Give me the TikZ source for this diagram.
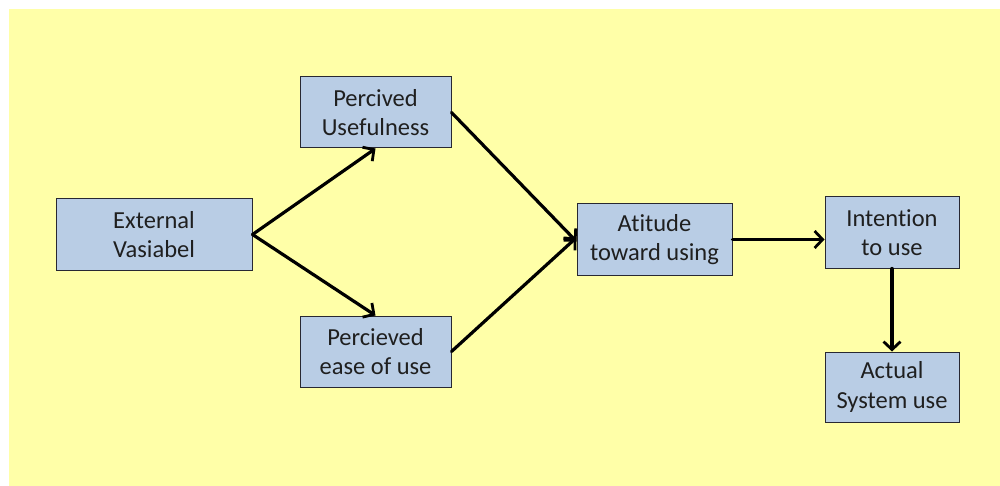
\documentclass[tikz,border=0pt]{standalone}
\usepackage{fontspec}
\setmainfont{Carlito}[Ligatures=CommonOff]
\usetikzlibrary{arrows.meta}
\definecolor{bgyellow}{RGB}{255,255,168}
\definecolor{boxfill}{RGB}{185,205,229}
\definecolor{boxdraw}{RGB}{40,40,50}
\tikzset{
  box/.style={rectangle, draw=boxdraw, line width=1pt, fill=boxfill, inner sep=0pt,
    align=center, font=\fontsize{24.5}{29.5}\selectfont, text=black!88},
  conn/.style={line width=3.2pt, line cap=round, -{Straight Barb[length=8pt,width=17pt,line width=2.8pt]}}
}
\begin{document}
\begin{tikzpicture}[x=1pt,y=-1pt]
\useasboundingbox (0,0) rectangle (1000,486);
\fill[white] (0,0) rectangle (1000,486);
\fill[bgyellow] (9,9) rectangle (1000,486);
\node[box, minimum width=196pt, minimum height=71pt] (ev) at (154,234.5) {External\\Vasiabel};
\node[box, minimum width=151pt, minimum height=71pt] (pu) at (375.5,112.5) {Percived\\Usefulness};
\node[box, minimum width=151pt, minimum height=71pt] (pe) at (375.5,351.5) {Percieved\\ease of use};
\node[box, minimum width=155pt, minimum height=71pt] (at) at (654.5,239.5) {Atitude\\toward using};
\node[box, minimum width=134pt, minimum height=71pt] (it) at (892,232.5) {Intention\\to use};
\node[box, minimum width=134pt, minimum height=70pt] (as) at (892,387) {Actual\\System use};
\draw[conn] (ev.east) -- (pu.south);
\draw[conn] (ev.east) -- (pe.north);
\draw[conn] (pu.east) -- ([yshift=-2pt]at.west);
\draw[conn] (pe.east) -- ([yshift=2pt]at.west);
\draw[conn] (at.east) -- (at.east -| it.west);
\draw[conn] (it.south) -- (as.north);
\end{tikzpicture}
\end{document}
